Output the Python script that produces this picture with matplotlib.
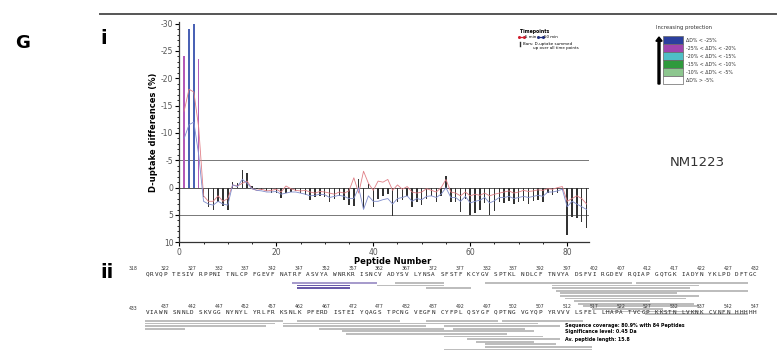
import matplotlib
matplotlib.use("Agg")
import matplotlib.pyplot as plt
import numpy as np
from matplotlib.lines import Line2D
from matplotlib.patches import Rectangle, FancyArrow
from matplotlib.ticker import MultipleLocator

plt.rcParams["axes.unicode_minus"] = False

# ---- data ----
peptides = np.arange(1, 85)
bars = [-24, -29, -30, -23.5, 1.7, 3.6, 4.0, 2.6, 3.4, 4.0,
        -1.0, -0.8, -3.3, -2.7, -0.3, 0.3, 0.5, 0.6, 0.9, 1.0,
        1.9, 1.0, 0.8, 0.6, 1.0, 1.3, 2.3, 1.8, 1.6, 1.7,
        2.7, 2.0, 1.6, 2.2, 3.2, 3.4, -1.5, 3.8, -0.6, 3.6,
        2.1, 1.6, 1.2, 5.1, 2.6, 2.2, 1.5, 3.6, 2.6, 3.2,
        2.0, 1.6, 2.7, 1.5, -2.1, 2.7, 2.6, 4.4, 2.0, 5.0,
        4.6, 4.1, 2.8, 5.0, 4.2, 2.6, 2.8, 2.5, 3.0, 2.7,
        2.5, 3.0, 2.5, 2.2, 2.7, 1.0, 1.3, 1.0, 0.4, 8.7,
        5.3, 5.6, 6.2, 7.4]
min5 = [-14, -18, -17.5, -11, 1.5, 2.5, 2.5, 1.5, 2.5, 2.0,
        -0.5, -0.3, -0.8, -1.2, 0.2, 0.5, 0.3, 0.6, 0.5, 0.3,
        0.8, -0.3, 0.2, 0.5, 0.6, 0.5, 0.8, 1.0, 0.7, 0.8,
        1.0, 1.2, 0.8, 1.0, 0.6, -1.8, 1.0, -3.0, -0.8, 0.5,
        -1.2, -1.0, -1.5, 0.5, -0.5, 0.3, -0.2, 0.8, 1.0, 0.8,
        0.2, 0.5, 0.8, 0.0, -1.5, 0.8, 1.0, 1.5, 0.8, 1.5,
        1.2, 1.4, 1.0, 1.5, 1.2, 1.0, 0.8, 0.6, 1.0, 0.8,
        0.5, 0.7, 0.6, 0.4, 0.5, 0.2, 0.3, 0.0, -0.2, 2.5,
        2.0, 1.5, 2.0, 3.0]
min50 = [-9, -11.5, -12, -6, 2.5, 3.0, 3.2, 2.5, 3.0, 3.2,
         -0.5, -0.2, -1.5, -0.8, 0.2, 0.5, 0.6, 0.8, 0.8, 0.7,
         1.2, 1.0, 0.8, 0.8, 1.0, 1.2, 1.5, 1.4, 1.2, 1.3,
         1.8, 1.6, 1.4, 1.6, 2.0, 2.0, 0.0, 4.0, 1.5, 2.5,
         2.5, 2.2, 2.0, 3.0, 2.0, 1.8, 1.5, 2.5, 2.0, 2.2,
         1.6, 1.5, 1.8, 1.2, 0.0, 1.8, 1.8, 2.5, 1.6, 2.8,
         2.5, 2.3, 1.8, 2.8, 2.4, 1.8, 1.8, 1.6, 2.0, 1.8,
         1.6, 1.8, 1.6, 1.4, 1.6, 0.8, 0.8, 0.6, 0.3, 3.5,
         2.5, 3.0, 3.5, 4.0]

prot_labels = ["ΔD% < -25%", "-25% < ΔD% < -20%", "-20% < ΔD% < -15%",
               "-15% < ΔD% < -10%", "-10% < ΔD% < -5%", "ΔD% > -5%"]
prot_colors = ["#2b3f9e", "#a044ae", "#4fbfc6", "#2f9a3c", "#8dc78f", "#ffffff"]
prot_limits = [-25, -20, -15, -10, -5]

seq1 = ("QRVQPTESIVRPPNITNLCPFGEVFNATRFASVYAWNRKRISNCVADYSVLYNSASFSTF"
        "KCYGVSPTKLNDLCFTNVYADSFVIRGDEVRQIAPGQTGKIADYNYKLPDDFTGC")
seq2 = ("VIAWNSNNLDSKVGGNYNYLYRLFRKSNLKPFERDISTEIYQAGSTPCNGVEGFNCYFPL"
        "QSYGFQPTNGVGYQPYRVVVLSFELLHAPATVCGPKKSTNLVKNKCVNFNHHHHH")
start1, start2 = 318, 433

# coverage peptides: start, end residue, shade (0 grey, 1 light purple, 2 dark purple)
cov_start = [346, 347, 347, 362, 365, 371, 382, 394, 394, 395, 396, 396, 397,
             398, 399, 400, 402, 404, 410, 412,
             433, 433, 433, 433, 459, 459, 462, 466, 470, 471, 486, 489,
             489, 491, 493, 495, 497, 500, 497, 489]
cov_end = [361, 356, 356, 373, 373, 378, 408, 421, 419, 430, 417, 421, 418,
           412, 420, 421, 414, 421, 430, 430,
           458, 457, 455, 440, 506, 485, 480, 488, 505, 500, 498, 510,
           507, 503, 510, 505, 509, 514, 516, 516]
cov_shade = [1, 2, 2] + [0] * 37

# ---- figure ----
W, H = 782, 350
fig = plt.figure(figsize=(W / 100, H / 100), dpi=100)

def fx(x):
    return x / W

def fy(y):
    return 1 - y / H

ax = fig.add_axes([fx(179.3), fy(242.3), fx(589) - fx(179.3), fy(22) - fy(242.3)])

def bar_color(v):
    for lim, c in zip(prot_limits, prot_colors):
        if v < lim:
            return c
    return "#333333"

cols = [bar_color(v) for v in bars]
cols = ["#b35ab8" if c == prot_colors[1] else ("#4a62b5" if c == prot_colors[0] else c) for c in cols]
ax.bar(peptides, bars, width=0.3, color=cols, zorder=3)
ax.plot(peptides, min5, color="#e07f86", lw=0.6, zorder=4)
ax.plot(peptides, min50, color="#7f8ccc", lw=0.6, zorder=4)
ax.axhline(-5, color="#777777", lw=0.7, zorder=1)
ax.axhline(5, color="#777777", lw=0.7, zorder=1)
ax.axhline(0, color="#555555", lw=0.7, zorder=2)

ax.set_xlim(0, 84.5)
ax.set_ylim(10, -30.3)
ax.yaxis.set_major_locator(MultipleLocator(5))
ax.yaxis.set_minor_locator(MultipleLocator(1))
ax.xaxis.set_major_locator(MultipleLocator(20))
ax.xaxis.set_minor_locator(MultipleLocator(5))
for s in ["top", "right"]:
    ax.spines[s].set_visible(False)
for s in ["left", "bottom"]:
    ax.spines[s].set_color("#333333")
    ax.spines[s].set_linewidth(0.9)
ax.tick_params(which="major", length=3, width=0.8, labelsize=5.5, labelcolor="#555555", pad=1.2)
ax.tick_params(which="minor", length=1.5, width=0.6)
ax.set_ylabel("D-uptake differences (%)", fontsize=6, fontweight="bold", labelpad=2)
ax.set_xlabel("Peptide Number", fontsize=6, fontweight="bold")
ax.xaxis.set_label_coords(0.52, -0.068)

# panel letters and top rule
fig.text(fx(15), fy(43), "G", fontsize=13, fontweight="bold", va="center")
fig.text(fx(100), fy(38), "i", fontsize=14, fontweight="bold", va="center")
fig.text(fx(100), fy(272), "ii", fontsize=14, fontweight="bold", va="center")
fig.add_artist(Line2D([fx(100), fx(776)], [fy(14), fy(14)], color="#555555", lw=1.4))
fig.text(fx(670), fy(162), "NM1223", fontsize=9.5, color="#333333", va="center")

# timepoints legend
fig.text(fx(520), fy(31), "Timepoints", fontsize=3.3, fontweight="bold", va="center")
fig.add_artist(Line2D([fx(519), fx(524)], [fy(37), fy(37)], color="#d02030", lw=0.9, marker="o", markersize=1.2))
fig.text(fx(525), fy(37), "5 min", fontsize=2.9, va="center")
fig.add_artist(Line2D([fx(538), fx(543)], [fy(37), fy(37)], color="#203080", lw=0.9, marker="o", markersize=1.2))
fig.text(fx(544), fy(37), "50 min", fontsize=2.9, va="center")
fig.add_artist(Line2D([fx(520), fx(520)], [fy(42), fy(46)], color="#333333", lw=1.0))
fig.text(fx(523), fy(44), "Bars: D-uptake summed", fontsize=2.9, va="center")
fig.text(fx(533), fy(48.5), "up over all time points", fontsize=2.9, va="center")

# protection legend
fig.text(fx(656), fy(27), "Increasing protection", fontsize=3.8, va="center", color="#333333")
fig.add_artist(FancyArrow(fx(659), fy(84), 0, fy(37) - fy(84), width=0.0025,
                          head_width=0.008, head_length=0.012, color="black",
                          length_includes_head=True))
for i, (lab, c) in enumerate(zip(prot_labels, prot_colors)):
    y0 = 36 + i * 8
    fig.add_artist(Rectangle((fx(663), fy(y0 + 8)), fx(20), fy(y0) - fy(y0 + 8),
                             facecolor=c, edgecolor="#666666", lw=0.5))
    fig.text(fx(686), fy(y0 + 4), lab, fontsize=3.4, va="center", color="#333333")

# ---- sequence coverage panel ----
axs = fig.add_axes([fx(145), fy(350), fx(757) - fx(145), fy(262) - fy(350)])
axs.set_xlim(-0.5, 136.5)
axs.set_ylim(350, 262)
axs.axis("off")

def slot(i):
    return i + i // 5

lines = [(seq1, start1, 268, 274, 282), (seq2, start2, 307, 312, 320)]
for seq, st, ynum, yseq, ybar in lines:
    axs.text(slot(0) - 2.2, ynum + 1, str(st), fontsize=3.3, ha="right", va="center", color="#333333")
    for i, ch in enumerate(seq):
        axs.text(slot(i), yseq, ch, fontsize=4.3, ha="center", va="center",
                 family="DejaVu Sans Mono", color="#222222")
        if i % 5 == 4:
            axs.text(slot(i), ynum, str(st + i), fontsize=3.3, ha="center", va="center", color="#333333")
    rows_end = []
    for s, e, p in zip(cov_start, cov_end, cov_shade):
        if s < st or s > st + len(seq) - 1:
            continue
        e = min(e, st + len(seq) - 1)
        i0, i1 = s - st, e - st
        r = 0
        while r < len(rows_end) and rows_end[r] >= i0 - 1:
            r += 1
        if r == len(rows_end):
            rows_end.append(i1)
        else:
            rows_end[r] = i1
        c = {0: "#bdbdbd", 1: "#a79ccc", 2: "#6a5aa8"}[p]
        axs.add_patch(Rectangle((slot(i0) - 0.5, ybar + r * 2.6), slot(i1) - slot(i0) + 1, 1.8,
                                facecolor=c, edgecolor="none"))

fig.text(fx(565), fy(325), "Sequence coverage: 80.9% with 84 Peptides", fontsize=3.4, fontweight="bold", va="center")
fig.text(fx(565), fy(332), "Significance level: 0.45 Da", fontsize=3.4, fontweight="bold", va="center")
fig.text(fx(565), fy(339), "Av. peptide length: 15.8", fontsize=3.4, fontweight="bold", va="center")

fig.savefig("out.png", dpi=100)
